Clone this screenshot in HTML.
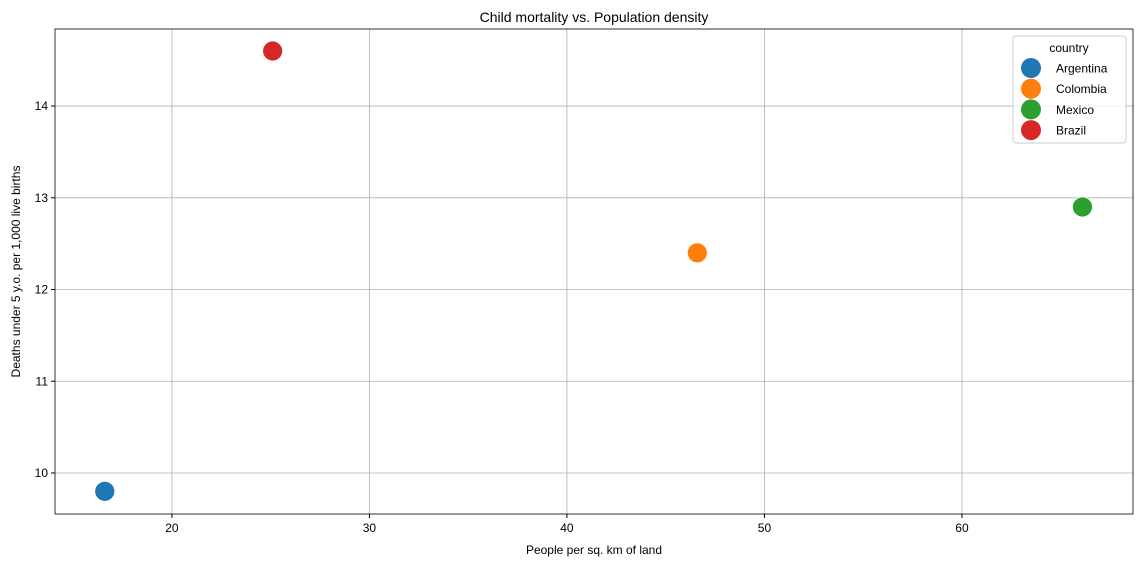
<!DOCTYPE html>
<html><head><meta charset="utf-8"><style>body{margin:0;background:#fff}svg{display:block;font-family:"Liberation Sans",sans-serif}</style></head>
<body>
<svg id="chart" width="1142" height="566"></svg>
<script>
const countries=["Argentina","Colombia","Mexico","Brazil"];
const density=[16.6,46.6,66.1,25.1];
const mortality=[9.8,12.4,12.9,14.6];
const colors=["#1f77b4","#ff7f0e","#2ca02c","#d62728"];
const xTicks=[20,30,40,50,60];
const yTicks=[10,11,12,13,14];
const L=55,R=1133,T=29,B=514;
const xMin=14.08,xMax=68.66,yMin=9.553,yMax=14.84;
const sx=v=>L+(v-xMin)/(xMax-xMin)*(R-L);
const sy=v=>B-(v-yMin)/(yMax-yMin)*(B-T);
const svg=document.getElementById('chart');const NS='http://www.w3.org/2000/svg';
function mk(t,a,p){const e=document.createElementNS(NS,t);for(const k in a)e.setAttribute(k,a[k]);(p||svg).appendChild(e);return e;}
xTicks.forEach(v=>{const x=sx(v);
const g=mk('line',{x1:x,x2:x,y1:T,y2:B,stroke:'#b0b0b0','stroke-width':0.8});

mk('line',{x1:x,x2:x,y1:B,y2:B+4,stroke:'#000'});
const t=mk('text',{x:x,y:B+18,'text-anchor':'middle','font-size':12});t.textContent=v;
});
yTicks.forEach(v=>{const y=sy(v);
const g=mk('line',{x1:L,x2:R,y1:y,y2:y,stroke:'#b0b0b0','stroke-width':0.8});

mk('line',{x1:L-4,x2:L,y1:y,y2:y,stroke:'#000'});
const t=mk('text',{x:L-7,y:y+4,'text-anchor':'end','font-size':12});t.textContent=v;
});
const fr=mk('rect',{x:L,y:T,width:R-L,height:B-T,fill:'none',stroke:'#000','stroke-width':0.8});

countries.forEach((c,i)=>{const p=mk('circle',{cx:sx(density[i]),cy:sy(mortality[i]),r:10,fill:colors[i],stroke:'#fff','stroke-width':0.8});
});
let t=mk('text',{x:(L+R)/2,y:22,'text-anchor':'middle','font-size':14});t.textContent='Child mortality vs. Population density';

t=mk('text',{x:(L+R)/2,y:554,'text-anchor':'middle','font-size':12});t.textContent='People per sq. km of land';

t=mk('text',{x:0,y:0,'text-anchor':'middle','font-size':12,transform:'translate(20,'+((T+B)/2)+') rotate(-90)'});t.textContent='Deaths under 5 y.o. per 1,000 live births';

const lg=mk('g',{});
mk('rect',{x:1013,y:36,width:113,height:107,rx:3,fill:'#fff','fill-opacity':0.8,stroke:'#ccc'},lg);
t=mk('text',{x:1069,y:52,'text-anchor':'middle','font-size':12},lg);t.textContent='country';
countries.forEach((c,i)=>{const y=68+i*20.7;
const e=mk('circle',{cx:1031,cy:y,r:10,fill:colors[i]},lg);

const tx=mk('text',{x:1056,y:y+4.5,'font-size':12},lg);tx.textContent=c;
});
</script>
</body></html>
